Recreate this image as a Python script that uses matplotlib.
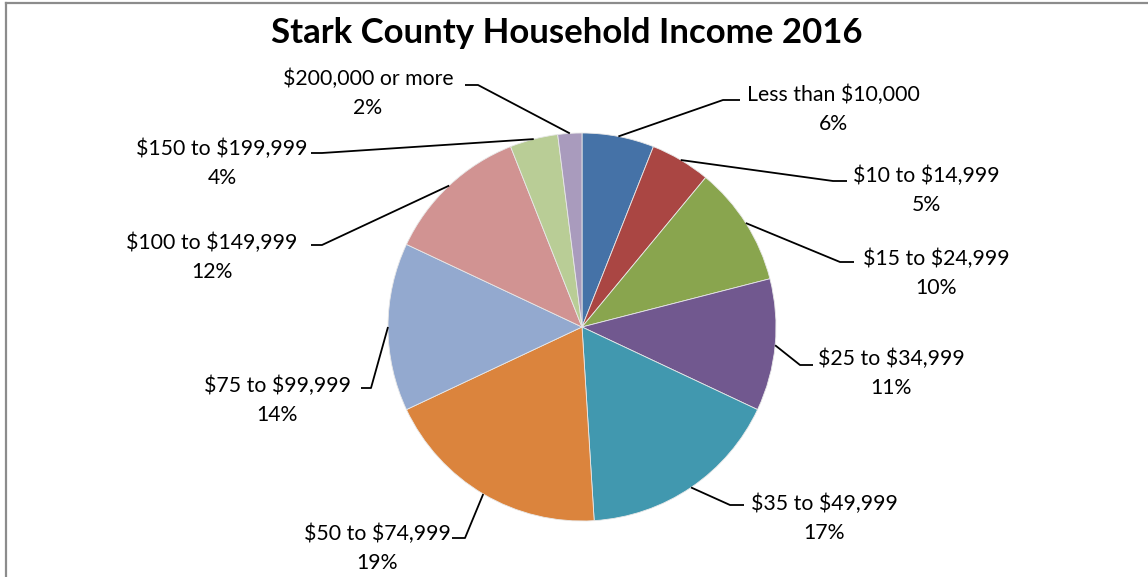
import matplotlib
matplotlib.use("Agg")
import matplotlib.pyplot as plt
import numpy as np
from matplotlib.lines import Line2D

title = "Stark County Household Income 2016"
categories = ["Less than $10,000", "$10 to $14,999", "$15 to $24,999", "$25 to $34,999",
              "$35 to $49,999", "$50 to $74,999", "$75 to $99,999", "$100 to $149,999",
              "$150 to $199,999", "$200,000 or more"]
values = [6, 5, 10, 11, 17, 19, 14, 12, 4, 2]
colors = ["#4572A7", "#AA4643", "#89A54E", "#71588F", "#4198AF",
          "#DB843D", "#93A9CF", "#D19392", "#B9CD96", "#A99BBD"]

W, H = 1148, 577
plt.rcParams['font.family'] = ['Lato', 'DejaVu Sans']
plt.rcParams['text.parse_math'] = False
fig = plt.figure(figsize=(W / 100, H / 100), dpi=100)
ax = fig.add_axes([0, 0, 1, 1])

def Y(py):
    return H - py

cx, cy, R = 582, Y(327), 194
wedges, _ = ax.pie(values, colors=colors, startangle=90, counterclock=False,
                   center=(cx, cy), radius=R, frame=True,
                   wedgeprops=dict(linewidth=0.6, edgecolor='#e8e8e8'))
ax.set_xlim(0, W)
ax.set_ylim(0, H)
ax.set_aspect('equal')
ax.axis('off')

# label layout: (text center x, text center y, elbow x, elbow y, end x)
layout = [
    (833, 109, 723, 100, 740),
    (926, 190, 833, 181, 847),
    (936, 273, 840, 262, 854),
    (891, 373, 800, 365, 813),
    (824, 518, 730, 505, 744),
    (377, 548, 465, 538, 452),
    (277, 400, 371, 388, 361),
    (212, 257, 322, 245, 311),
    (222, 163, 322, 153, 311),
    (368, 93, 478, 85, 465),
]

for w, cat, v, (tx, ty, ex, ey, endx) in zip(wedges, categories, values, layout):
    mid = np.deg2rad((w.theta1 + w.theta2) / 2)
    sx = cx + R * np.cos(mid)
    sy = cy + R * np.sin(mid)
    ax.plot([sx, ex, endx], [sy, Y(ey), Y(ey)], color='black', lw=1.3,
            solid_capstyle='butt', zorder=3)
    ax.text(tx, Y(ty), f"{cat}\n{v}%", ha='center', va='center', fontsize=15.3,
            linespacing=1.55, color='black', parse_math=False)

ax.text(567, Y(33), title, ha='center', va='center', fontsize=25, fontweight='bold')

# chart border (top and left visible)
fig.add_artist(Line2D([5.5 / W, 5.5 / W], [0, 1 - 3 / H], transform=fig.transFigure,
                      color='#8c8c8c', lw=1.6))
fig.add_artist(Line2D([5.5 / W, 1], [1 - 3 / H, 1 - 3 / H], transform=fig.transFigure,
                      color='#8c8c8c', lw=1.6))

fig.savefig("out.png", dpi=100, facecolor='white')
